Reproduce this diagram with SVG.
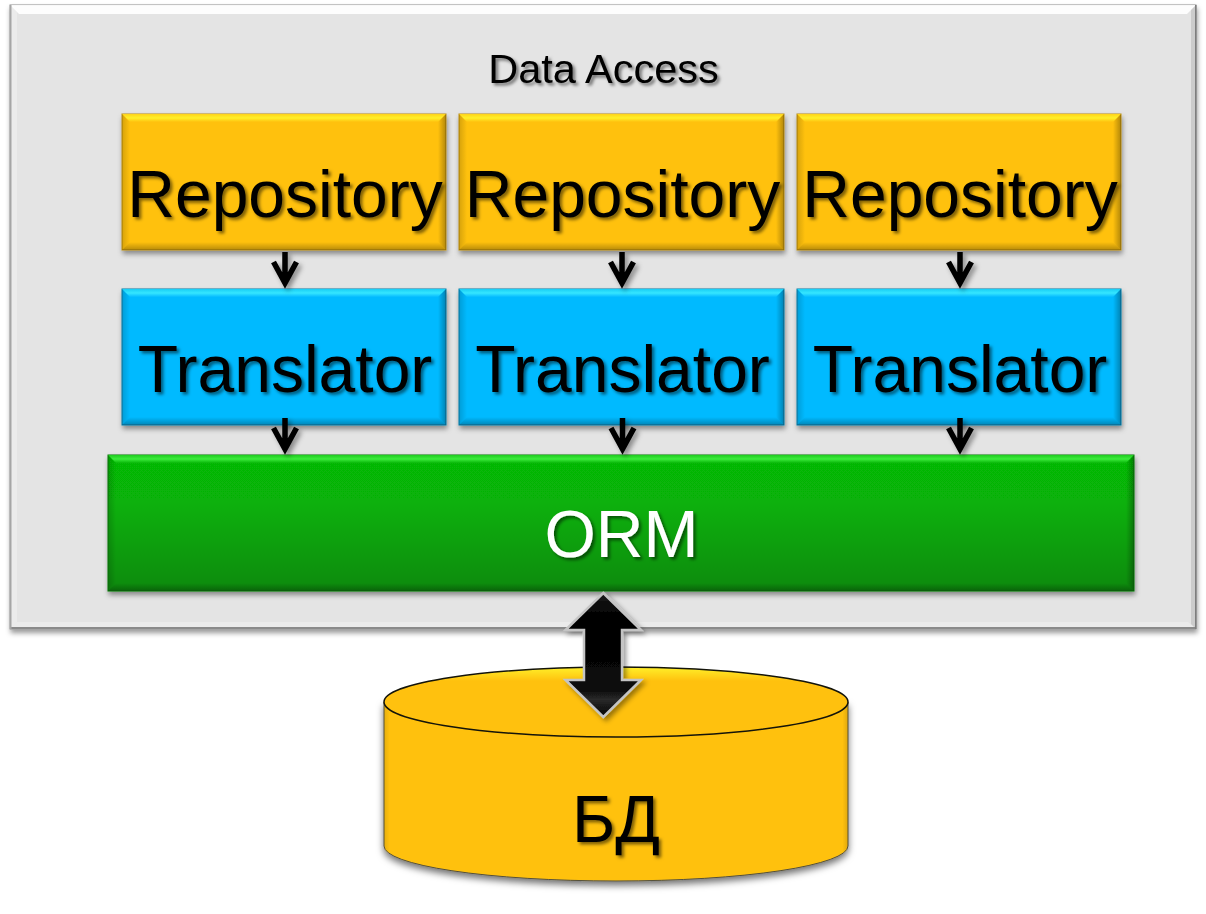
<svg xmlns="http://www.w3.org/2000/svg" width="1206" height="914" viewBox="0 0 1206 914">
<style>
text{font-family:"Liberation Sans",Arial,sans-serif;text-anchor:middle;filter:url(#ts)}
.big{font-size:66px;fill:#000}
.left{fill:url(#fadeL)}
.right{fill:url(#fadeR)}
.bot{fill:url(#fadeB)}
.y{fill:#ffc10e;stroke:#b98d12;stroke-width:1}
.b{fill:#05baff;stroke:#0b7fa8;stroke-width:1}
.ty{fill:url(#topY)}
.tb{fill:url(#topB)}
.tg{fill:url(#topG)}
.box{filter:url(#bs)}
.conn{fill:none;stroke:#000;stroke-width:5.500;filter:url(#as)}
</style>
<defs>
<filter id="ts" x="-10%" y="-20%" width="125%" height="145%"><feDropShadow dx="2.500" dy="2.500" stdDeviation="1.600" flood-color="#000" flood-opacity=".5"/></filter>
<filter id="bs" x="-5%" y="-10%" width="110%" height="120%"><feDropShadow dx="1" dy="3.500" stdDeviation="2.500" flood-color="#000" flood-opacity=".4"/></filter>
<filter id="cs" x="-5%" y="-10%" width="110%" height="120%"><feDropShadow dx="0" dy="4" stdDeviation="3.500" flood-color="#000" flood-opacity=".55"/></filter>
<filter id="as" x="-60%" y="-30%" width="220%" height="170%"><feDropShadow dx="3" dy="3" stdDeviation="2.500" flood-color="#000" flood-opacity=".4"/></filter>
<linearGradient id="topY" x1="0" y1="0" x2="0" y2="1"><stop offset="0" stop-color="#ffd31a"/><stop offset=".5" stop-color="#fff02a"/><stop offset="1" stop-color="#ffc10e"/></linearGradient>
<linearGradient id="topB" x1="0" y1="0" x2="0" y2="1"><stop offset="0" stop-color="#18cdf5"/><stop offset=".5" stop-color="#35e6ff"/><stop offset="1" stop-color="#05baff"/></linearGradient>
<linearGradient id="topG" x1="0" y1="0" x2="0" y2="1"><stop offset="0" stop-color="#1ecb1e"/><stop offset=".5" stop-color="#3cec3c"/><stop offset="1" stop-color="#08b808"/></linearGradient>
<linearGradient id="fadeL" x1="0" y1="0" x2="1" y2="0"><stop offset="0" stop-color="#000" stop-opacity=".16"/><stop offset="1" stop-color="#000" stop-opacity="0"/></linearGradient>
<linearGradient id="fadeR" x1="1" y1="0" x2="0" y2="0"><stop offset="0" stop-color="#000" stop-opacity=".3"/><stop offset="1" stop-color="#000" stop-opacity="0"/></linearGradient>
<linearGradient id="fadeB" x1="0" y1="1" x2="0" y2="0"><stop offset="0" stop-color="#000" stop-opacity=".28"/><stop offset="1" stop-color="#000" stop-opacity="0"/></linearGradient>
<linearGradient id="green" x1="0" y1="0" x2="0" y2="1"><stop offset="0" stop-color="#06b906"/><stop offset=".35" stop-color="#07b107"/><stop offset="1" stop-color="#0a8a0a"/></linearGradient>
<linearGradient id="cyl" x1="0" y1="0" x2="0" y2="1"><stop offset="0" stop-color="#fff02a"/><stop offset=".2" stop-color="#ffc10e"/><stop offset="1" stop-color="#ffc10e"/></linearGradient>
<linearGradient id="cylb" x1="0" y1="0" x2="1" y2="0"><stop offset="0" stop-color="#e6ae0c"/><stop offset=".012" stop-color="#ffc10e"/><stop offset=".988" stop-color="#ffc10e"/><stop offset="1" stop-color="#e0a80c"/></linearGradient>
<linearGradient id="arr" x1="0" y1="0" x2="0" y2="1"><stop offset="0" stop-color="#1a1a1a"/><stop offset=".2" stop-color="#000"/><stop offset=".78" stop-color="#0a0a0a"/><stop offset=".86" stop-color="#2a2a2a"/><stop offset="1" stop-color="#000"/></linearGradient>
</defs>

<g id="data-access">
<rect class="box" x="10" y="5" width="1186" height="624" fill="#e4e4e4" stroke="#8e8e8e" stroke-width="1"/>
<polygon points="10,5 1196,5 1187,14 19,14" fill="#fff" fill-opacity=".9"/>
<polygon points="1196,5 1196,629 1191,624 1191,10" fill="#000" fill-opacity=".1"/>
<polygon points="10,629 1196,629 1188,622 17,622" fill="#fff" fill-opacity=".28"/>
<polygon points="10,5 17,12 17,622 10,629" fill="#fff" fill-opacity=".28"/>
<rect x="10" y="627" width="1186" height="2" fill="#8a8a8a"/>
<rect x="1195" y="5" width="1.500" height="624" fill="#7e7e7e"/>
<rect x="10" y="5" width="1.500" height="624" fill="#a5a5a5"/>
<text x="603.500" y="82.500" font-size="41.500" fill="#000">Data Access</text>
</g>

<g id="repo1">
<rect class="y box" x="122" y="114" width="324" height="136"/>
<polygon class="ty" points="122,114 446,114 438,122 130,122"/><polygon class="left" points="122,114 130,122 130,242 122,250"/><polygon class="right" points="446,114 446,250 438,242 438,122"/><polygon class="bot" points="122,250 446,250 438,242 130,242"/>
<text class="big" x="285" y="217">Repository</text>
</g>
<g id="repo2">
<rect class="y box" x="459" y="114" width="325" height="136"/>
<polygon class="ty" points="459,114 784,114 776,122 467,122"/><polygon class="left" points="459,114 467,122 467,242 459,250"/><polygon class="right" points="784,114 784,250 776,242 776,122"/><polygon class="bot" points="459,250 784,250 776,242 467,242"/>
<text class="big" x="622.500" y="217">Repository</text>
</g>
<g id="repo3">
<rect class="y box" x="797" y="114" width="324" height="136"/>
<polygon class="ty" points="797,114 1121,114 1113,122 805,122"/><polygon class="left" points="797,114 805,122 805,242 797,250"/><polygon class="right" points="1121,114 1121,250 1113,242 1113,122"/><polygon class="bot" points="797,250 1121,250 1113,242 805,242"/>
<text class="big" x="960" y="217">Repository</text>
</g>

<g id="trans1">
<rect class="b box" x="122" y="289" width="324" height="136"/>
<polygon class="tb" points="122,289 446,289 438,297 130,297"/><polygon class="left" points="122,289 130,297 130,417 122,425"/><polygon class="right" points="446,289 446,425 438,417 438,297"/><polygon class="bot" points="122,425 446,425 438,417 130,417"/>
<text class="big" x="285" y="392">Translator</text>
</g>
<g id="trans2">
<rect class="b box" x="459" y="289" width="325" height="136"/>
<polygon class="tb" points="459,289 784,289 776,297 467,297"/><polygon class="left" points="459,289 467,297 467,417 459,425"/><polygon class="right" points="784,289 784,425 776,417 776,297"/><polygon class="bot" points="459,425 784,425 776,417 467,417"/>
<text class="big" x="622.500" y="392">Translator</text>
</g>
<g id="trans3">
<rect class="b box" x="797" y="289" width="324" height="136"/>
<polygon class="tb" points="797,289 1121,289 1113,297 805,297"/><polygon class="left" points="797,289 805,297 805,417 797,425"/><polygon class="right" points="1121,289 1121,425 1113,417 1113,297"/><polygon class="bot" points="797,425 1121,425 1113,417 805,417"/>
<text class="big" x="960" y="392">Translator</text>
</g>

<g id="orm">
<rect class="box" x="108" y="455" width="1026" height="136" fill="url(#green)" stroke="#0a7a0a" stroke-width="1"/>
<polygon class="tg" points="108,455 1134,455 1126,463 116,463"/><polygon class="left" points="108,455 116,463 116,583 108,591"/><polygon class="right" points="1134,455 1134,591 1126,583 1126,463"/><polygon class="bot" points="108,591 1134,591 1126,583 116,583"/>
<text x="621.500" y="557" font-size="66" fill="#fff">ORM</text>
</g>

<g id="connectors">
<path class="conn" d="M285 252V283M273.500 262L285 283L296.500 262"/>
<path class="conn" d="M622 252V283M610.500 262L622 283L633.500 262"/>
<path class="conn" d="M960 252V283M948.500 262L960 283L971.500 262"/>
<path class="conn" d="M285 418V449M273.500 428L285 449L296.500 428"/>
<path class="conn" d="M622.500 418V449M611 428L622.500 449L634 428"/>
<path class="conn" d="M960 418V449M948.500 428L960 449L971.500 428"/>
</g>

<g id="db">
<path d="M384 702V846A232 35 0 0 0 848 846V702Z" filter="url(#cs)" fill="url(#cylb)" stroke="#55503a" stroke-width="1"/>
<ellipse cx="616" cy="702" rx="232" ry="35" fill="url(#cyl)" stroke="#14140a" stroke-width="1.500"/>
<text class="big" x="616" y="842">БД</text>
</g>

<g id="db-link">
<polygon points="603.300,593 641,630 622,630 622,680 641,680 603.300,717 565.500,680 584,680 584,630 565.500,630" fill="url(#arr)" stroke="#c4c4c4" stroke-width="2.500" filter="url(#as)"/>
</g>
</svg>
